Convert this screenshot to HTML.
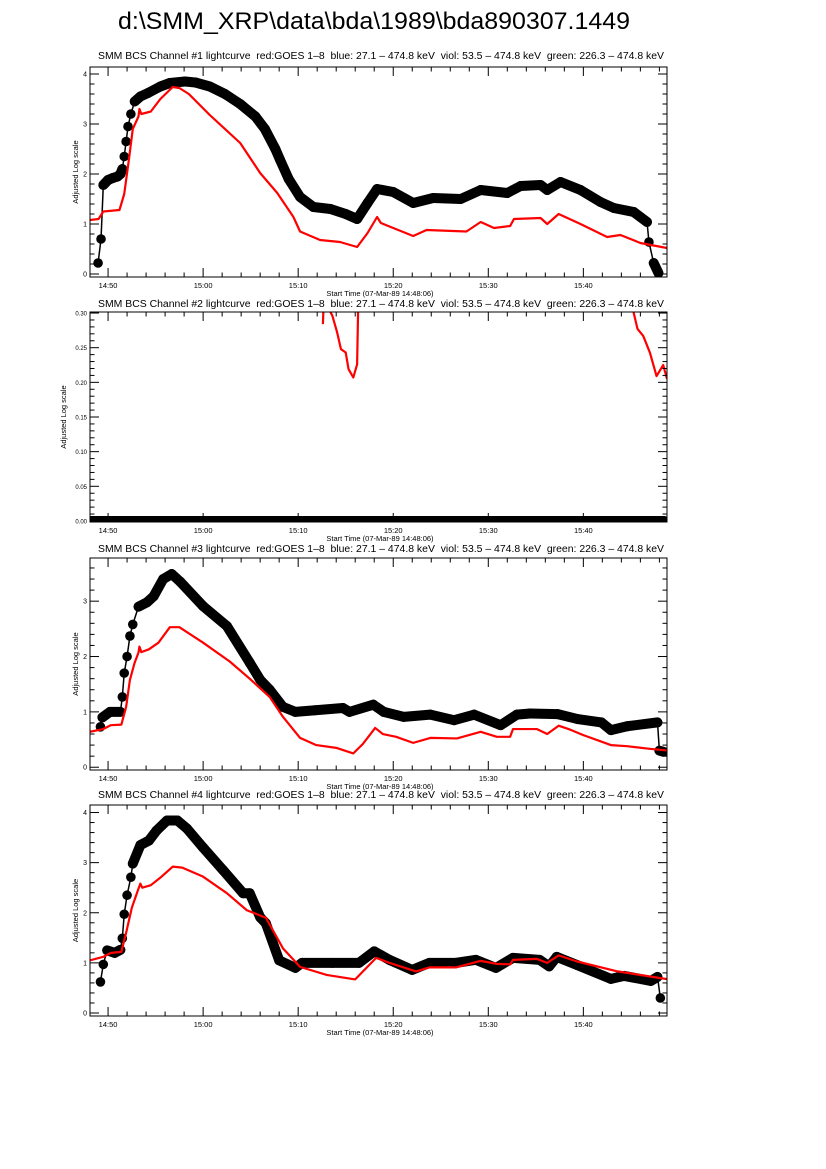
<!DOCTYPE html>
<html><head><meta charset="utf-8">
<style>
html,body{margin:0;padding:0;background:#fff;}
svg{display:block;font-family:"Liberation Sans",sans-serif;}
</style></head>
<body>
<svg id="chart" width="826" height="1169" viewBox="0 0 826 1169" xmlns="http://www.w3.org/2000/svg">
<rect width="826" height="1169" fill="#fff"/>
<text x="374" y="29" font-size="24" text-anchor="middle" textLength="512" lengthAdjust="spacingAndGlyphs" fill="#000">d:\SMM_XRP\data\bda\1989\bda890307.1449</text>
</svg>
<script>
// times are minutes after 14:48
const xTickLabels = ["14:50","15:00","15:10","15:20","15:30","15:40"];
const xTickTimes = [2,12,22,32,42,52];
const panelTitles = [
 "SMM BCS Channel #1 lightcurve  red:GOES 1\u20138  blue: 27.1 \u2013 474.8 keV  viol: 53.5 \u2013 474.8 keV  green: 226.3 \u2013 474.8 keV",
 "SMM BCS Channel #2 lightcurve  red:GOES 1\u20138  blue: 27.1 \u2013 474.8 keV  viol: 53.5 \u2013 474.8 keV  green: 226.3 \u2013 474.8 keV",
 "SMM BCS Channel #3 lightcurve  red:GOES 1\u20138  blue: 27.1 \u2013 474.8 keV  viol: 53.5 \u2013 474.8 keV  green: 226.3 \u2013 474.8 keV",
 "SMM BCS Channel #4 lightcurve  red:GOES 1\u20138  blue: 27.1 \u2013 474.8 keV  viol: 53.5 \u2013 474.8 keV  green: 226.3 \u2013 474.8 keV"];
const yTicks1 = [0,1,2,3,4];
const yTicks2 = [0.00,0.05,0.10,0.15,0.20,0.25,0.30];
const yTicks3 = [0,1,2,3];
const yTicks4 = [0,1,2,3,4];

const p1BlackT = [0.95,1.26,1.5,2.0,2.5,3.0,3.3,3.5,3.7,3.9,4.1,4.4,4.8,5.4,6.2,7.5,8.5,10.1,11.2,12.7,14.3,15.9,17.5,18.5,19.6,20.1,21,22.2,23.6,25.4,27,28.2,29.3,30.3,32,34.1,36.2,39.1,41.2,44,45.4,47.5,48.2,49.6,51.7,53.8,55.2,57.3,58.7,58.9,59.4,59.9];
const p1BlackV = [0.22,0.7,1.78,1.88,1.92,1.95,2.0,2.1,2.35,2.65,2.95,3.2,3.45,3.55,3.62,3.75,3.82,3.85,3.83,3.75,3.6,3.4,3.15,2.9,2.5,2.28,1.9,1.54,1.34,1.3,1.2,1.1,1.42,1.7,1.64,1.42,1.52,1.5,1.68,1.62,1.76,1.78,1.68,1.84,1.68,1.44,1.32,1.24,1.04,0.64,0.22,0.02];
const p1RedT = [0.1,1.0,1.5,3.2,3.7,4.2,4.6,5.2,5.3,5.5,6.5,7.5,8.8,9.5,10.5,12.7,15.9,18,19.8,21.5,22.2,24.3,26.4,28.2,29.3,30.3,30.7,32,34.1,35.5,38.3,39.7,41.2,42.6,44.3,44.7,47.5,48.2,49.4,51.7,54.5,55.9,58,60.8];
const p1RedV = [1.08,1.1,1.25,1.28,1.6,2.3,2.9,3.15,3.3,3.2,3.25,3.5,3.74,3.72,3.6,3.18,2.62,2.02,1.62,1.14,0.85,0.68,0.64,0.54,0.82,1.14,1.02,0.92,0.76,0.88,0.86,0.85,1.04,0.92,0.96,1.1,1.12,1.0,1.2,1.0,0.74,0.78,0.62,0.52];

const p2BlackT = [0.1,10,20,30,40,50,60.5];
const p2BlackV = [0,0,0,0,0,0,0];
const p2RedT = [24.6,24.7,25.6,26.1,26.5,27.0,27.3,27.8,28.2,28.3,28.5,57.0,57.3,57.7,58.3,59.0,59.7,60.4,60.8];
const p2RedV = [0.284,0.32,0.296,0.272,0.248,0.243,0.219,0.207,0.226,0.30,0.40,0.40,0.30,0.277,0.267,0.243,0.209,0.225,0.205];

const p3BlackT = [1.2,1.4,2.2,3.3,3.5,3.7,4.0,4.3,4.6,5.2,6.1,6.8,7.8,8.7,9.6,12,14.5,16.9,18,19,20.4,21.7,23.8,26.7,27.4,29.9,31,33.1,35.9,38.4,40.5,43.3,45,46.4,49.3,51.4,53.9,54.9,56.6,59.8,60.0,60.4];
const p3BlackV = [0.73,0.9,1.0,1.0,1.27,1.7,2.0,2.37,2.58,2.9,2.98,3.09,3.4,3.49,3.35,2.91,2.55,1.89,1.58,1.4,1.09,1.0,1.03,1.07,1.0,1.13,1.0,0.91,0.95,0.85,0.95,0.76,0.95,0.97,0.96,0.87,0.81,0.67,0.74,0.81,0.3,0.28];
const p3RedT = [0.1,1.5,2.3,3.4,3.9,4.3,4.8,5.2,5.3,5.5,6.3,7.3,8.5,9.5,12,14.8,16.9,19,20.4,22.2,23.9,26,27.8,28.8,30.1,30.9,32.3,34.1,35.9,38.7,41.2,42.9,44.3,44.6,47.1,48.2,49.4,50.6,52,54.9,56.6,59.1,61];
const p3RedV = [0.64,0.69,0.76,0.77,1.09,1.58,1.89,2.07,2.18,2.08,2.13,2.25,2.53,2.53,2.25,1.91,1.6,1.27,0.91,0.53,0.4,0.35,0.25,0.42,0.71,0.6,0.55,0.44,0.53,0.52,0.64,0.55,0.55,0.69,0.69,0.6,0.75,0.68,0.58,0.4,0.38,0.33,0.3];

const p4BlackT = [1.2,1.5,1.9,2.7,3.3,3.5,3.7,4.0,4.4,4.6,5.4,6.3,7.1,8.2,9.3,10.3,12,14.1,16.2,16.9,18,18.6,20,21.7,22.4,25.6,28.4,30,31.6,34,35.8,38.6,40.7,42.8,44.6,47.4,48.4,49.2,51.3,54.9,56.3,59.1,59.8,60.1];
const p4BlackV = [0.62,0.97,1.25,1.2,1.26,1.49,1.97,2.35,2.71,2.98,3.35,3.44,3.64,3.84,3.84,3.68,3.3,2.85,2.39,2.39,1.91,1.79,1.05,0.9,1.0,1.0,1.0,1.23,1.06,0.86,1.0,1.0,1.06,0.9,1.1,1.06,0.93,1.12,0.96,0.68,0.74,0.64,0.72,0.3];
const p4RedT = [0.1,1.5,2.3,3.4,3.9,4.5,5.2,5.4,5.6,6.5,7.5,8.8,9.8,12,14.5,16.6,18.6,20.4,22.2,25,28,30.2,31.6,34.4,35.8,38.6,41.2,42.9,44.3,44.6,47.1,48.2,49.4,51.3,55.6,61];
const p4RedV = [1.05,1.12,1.2,1.22,1.6,2.1,2.48,2.58,2.5,2.55,2.7,2.92,2.9,2.72,2.39,2.05,1.9,1.29,0.92,0.76,0.67,1.1,1.0,0.83,0.91,0.91,1.04,0.98,0.97,1.06,1.08,1.0,1.15,1.03,0.83,0.67];

const NS = "http://www.w3.org/2000/svg";
const svg = document.getElementById('chart');
const X0 = 90, X1 = 667, T0 = 0.1, T1 = 60.8;
function xScale(t){ return X0 + (t - T0) / (T1 - T0) * (X1 - X0); }
function mk(tag, attrs, parent){ const e = document.createElementNS(NS, tag); for (const k in attrs) e.setAttribute(k, attrs[k]); (parent||svg).appendChild(e); return e; }

const panels = [
 {top:67, bot:277, ymin:-0.06, ymax:4.14, ticks:yTicks1, minor:0.2, fmt:v=>String(v), bt:p1BlackT, bv:p1BlackV, rt:p1RedT, rv:p1RedV, titleY:59, lab:7},
 {top:312, bot:522, ymin:-0.0015, ymax:0.3015, ticks:yTicks2, minor:0.01, fmt:v=>v.toFixed(2), bt:p2BlackT, bv:p2BlackV, rt:p2RedT, rv:p2RedV, titleY:307, lab:6},
 {top:558, bot:770, ymin:-0.05, ymax:3.78, ticks:yTicks3, minor:0.2, fmt:v=>String(v), bt:p3BlackT, bv:p3BlackV, rt:p3RedT, rv:p3RedV, titleY:552, lab:7},
 {top:805, bot:1016, ymin:-0.06, ymax:4.15, ticks:yTicks4, minor:0.2, fmt:v=>String(v), bt:p4BlackT, bv:p4BlackV, rt:p4RedT, rv:p4RedV, titleY:798, lab:7}
];

panels.forEach((p, i) => {
  const g = mk('g', {});
  
  
  const yScale = v => p.bot - (v - p.ymin) / (p.ymax - p.ymin) * (p.bot - p.top);
  const title = mk('text', {x:381, y:p.titleY, 'font-size':10, 'text-anchor':'middle', textLength:566, lengthAdjust:'spacingAndGlyphs', style:'white-space:pre'}, g);
  
  
  title.textContent = panelTitles[i];
  const cp = mk('clipPath', {id:'clip'+i}, g);
  mk('rect', {x:X0, y:p.top, width:X1-X0, height:p.bot-p.top}, cp);
  const data = mk('g', {'clip-path':'url(#clip'+i+')'}, g);
  const bk = mk('g', {}, data);
  
  
  const bpts = p.bt.map((t, j) => [xScale(t), yScale(p.bv[j])]);
  mk('polyline', {points:bpts.map(q=>q.join(',')).join(' '), fill:'none', stroke:'#000', 'stroke-width':1.5}, bk);
  for (let j = 1; j < bpts.length; j++) {
    const slope = Math.abs(p.bv[j]-p.bv[j-1]) / (p.bt[j]-p.bt[j-1]) / (p.ymax - p.ymin);
    if (slope < 0.13) {
      const seg = mk('line', {x1:bpts[j-1][0], y1:bpts[j-1][1], x2:bpts[j][0], y2:bpts[j][1], stroke:'#000', 'stroke-width':10, 'stroke-linecap':'round'}, bk);
      
      
    }
  }
  bpts.forEach(q => {
    const c = mk('circle', {cx:q[0], cy:q[1], r:4.8, fill:'#000'}, bk);
    
    
  });
  const rpts = p.rt.map((t, j) => xScale(t)+','+yScale(p.rv[j])).join(' ');
  const rl = mk('polyline', {points:rpts, fill:'none', stroke:'#f00', 'stroke-width':2.2, 'stroke-linejoin':'round'}, data);
  
  
  const fr = mk('rect', {x:X0, y:p.top, width:X1-X0, height:p.bot-p.top, fill:'none', stroke:'#000', 'stroke-width':1}, g);
  
  
  const xa = mk('g', {}, g);
  
  
  for (let t = 2; t <= T1; t += 2) {
    const x = xScale(t);
    const len = ((t - 2) % 10 === 0) ? 9 : 4.5;
    mk('line', {x1:x, y1:p.bot, x2:x, y2:p.bot-len, stroke:'#000', 'stroke-width':1}, xa);
    mk('line', {x1:x, y1:p.top, x2:x, y2:p.top+len, stroke:'#000', 'stroke-width':1}, xa);
  }
  xTickLabels.forEach((lab, j) => {
    const tx = mk('text', {x:xScale(xTickTimes[j]), y:p.bot+11, 'font-size':7.5, 'text-anchor':'middle'}, xa);
    
    
    tx.textContent = lab;
  });
  const xt = mk('text', {x:380, y:p.bot+19, 'font-size':7.5, 'text-anchor':'middle'}, xa);
  
  
  xt.textContent = 'Start Time (07-Mar-89 14:48:06)';
  const ya = mk('g', {}, g);
  
  
  for (let k = 0; ; k++) {
    const v = k * p.minor;
    if (v > p.ymax + 1e-9) break;
    const y = yScale(v);
    const major = p.ticks.some(tv => Math.abs(tv - v) < 1e-6);
    const len = major ? 9 : 4.5;
    mk('line', {x1:X0, y1:y, x2:X0+len, y2:y, stroke:'#000', 'stroke-width':1}, ya);
    mk('line', {x1:X1, y1:y, x2:X1-len, y2:y, stroke:'#000', 'stroke-width':1}, ya);
  }
  p.ticks.forEach(v => {
    const ty = mk('text', {x:X0-3, y:yScale(v)+2.5, 'font-size':p.lab, 'text-anchor':'end'}, ya);
    
    
    ty.textContent = p.fmt(v);
  });
  const cy = (p.top + p.bot) / 2;
  const yl = mk('text', {x:0, y:0, 'font-size':7.5, 'text-anchor':'middle', transform:'translate(' + (i===1?66:78) + ',' + cy + ') rotate(-90)'}, ya);
  
  
  yl.textContent = 'Adjusted Log scale';
});
</script>
</body></html>
